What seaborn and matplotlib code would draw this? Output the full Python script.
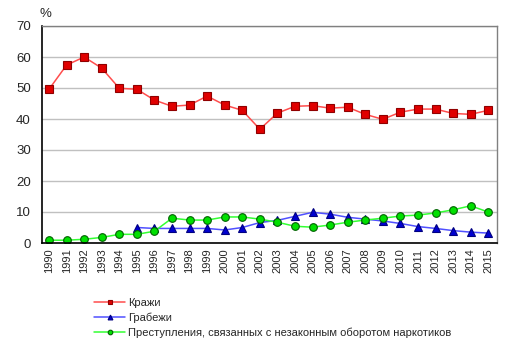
import numpy as np
import pandas as pd
import matplotlib
matplotlib.use("Agg")
import matplotlib.pyplot as plt
import seaborn as sns

years = list(range(1990, 2016))
krazhi = [49.6, 57.4, 60.0, 56.4, 49.9, 49.6, 46.1, 44.1, 44.5, 47.4, 44.5, 42.8, 36.7,
          41.9, 44.1, 44.3, 43.5, 43.8, 41.5, 39.9, 42.2, 43.2, 43.2, 41.8, 41.5, 42.8]
grabezhi = [np.nan, np.nan, np.nan, np.nan, np.nan, 5.0, 4.7, 4.7, 4.7, 4.7, 4.2, 5.0, 6.6,
            7.3, 8.6, 9.9, 9.3, 8.3, 7.7, 7.1, 6.3, 5.3, 4.7, 4.0, 3.5, 3.2]
narko = [0.9, 0.9, 1.2, 1.8, 2.8, 2.8, 3.8, 8.0, 7.4, 7.4, 8.4, 8.4, 7.7,
         6.7, 5.4, 5.1, 5.8, 6.7, 7.4, 8.0, 8.7, 9.0, 9.7, 10.7, 12.0, 10.0]
labels = ["Кражи", "Грабежи", "Преступления, связанных с незаконным оборотом наркотиков"]

df = pd.DataFrame({"year": years, "krazhi": krazhi, "grabezhi": grabezhi, "narko": narko})

sns.set_theme(style="white")
plt.rcParams["font.family"] = ["Liberation Sans", "DejaVu Sans"]

fig = plt.figure(figsize=(5.11, 3.53), dpi=100)
ax = fig.add_axes([42 / 511, 1 - 243 / 353, 455 / 511, 217 / 353])

styles = [
    ("krazhi", "#ff4d4d", "s", "#e00000", "#900000", 5.5),
    ("grabezhi", "#5050ff", "^", "#0000d0", "#000080", 5.8),
    ("narko", "#33ff33", "o", "#00e000", "#006000", 5.5),
]
for (col, lc, mk, fc, ec, ms), lab in zip(styles, labels):
    sns.lineplot(data=df, x="year", y=col, ax=ax, color=lc, lw=1.1,
                 marker=mk, markersize=ms, markerfacecolor=fc,
                 markeredgecolor=ec, markeredgewidth=0.8, label=lab)

ax.set_xlim(1989.6, 2015.5)
ax.set_ylim(0, 70)
ax.set_yticks(range(0, 71, 10))
ax.set_xticks(years)
ax.set_xticklabels([str(y) for y in years], rotation=90, fontsize=8)
ax.tick_params(axis="y", labelsize=9.5, length=0, pad=8)
ax.tick_params(axis="x", length=0, pad=4)
ax.yaxis.grid(True, color="#c0c0c0", lw=1)
ax.set_axisbelow(True)
ax.set_xlabel("")
ax.set_ylabel("")
for s in ["left", "bottom"]:
    ax.spines[s].set_color("black")
    ax.spines[s].set_linewidth(1.2)
for s in ["top", "right"]:
    ax.spines[s].set_color("#808080")
    ax.spines[s].set_linewidth(1)

fig.text(45 / 511, 1 - 14 / 353, "%", fontsize=9.5, ha="center", va="center")

leg = ax.legend(loc="upper left", bbox_to_anchor=(94 / 511, 1 - 298 / 353),
                bbox_transform=fig.transFigure, frameon=False, fontsize=8,
                handlelength=2.8, handletextpad=0.3, labelspacing=0.4,
                borderaxespad=0, borderpad=0, markerscale=0.6)

fig.savefig("out.png", dpi=100)
